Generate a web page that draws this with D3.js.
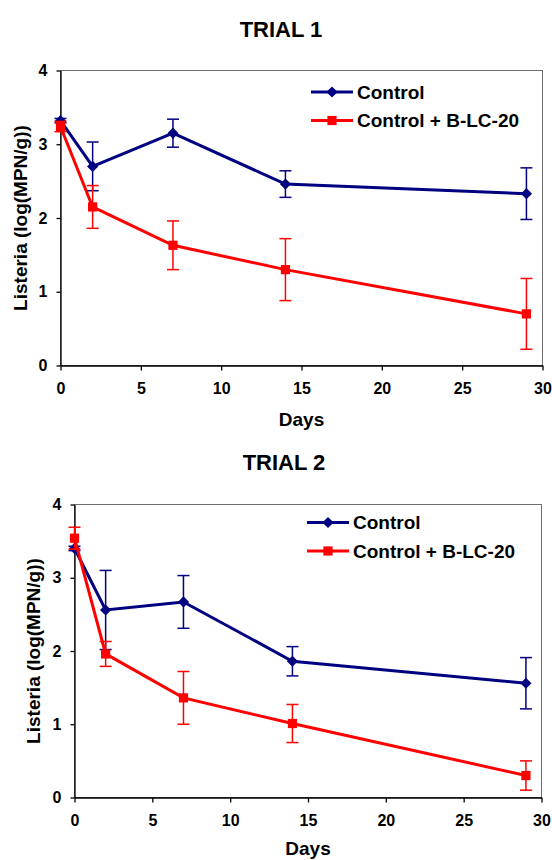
<!DOCTYPE html>
<html>
<head>
<meta charset="utf-8">
<script src="https://cdn.jsdelivr.net/npm/d3@7"></script>
<style>
  body { margin: 0; background: #fff; }
  svg text { font-family: Arial, "Liberation Sans", sans-serif; font-weight: bold; fill: #000; }
</style>
</head>
<body>
<div id="chart"></div>
<script>
// values (log MPN/g), symmetric error bars
var days = [0, 2, 7, 14, 29];
var seriesNames = ["Control", "Control + B-LC-20"];
var trialTitles = ["TRIAL 1", "TRIAL 2"];
var xTicks = [0, 5, 10, 15, 20, 25, 30];
var yTicks = [0, 1, 2, 3, 4];

var trial1Control = [3.32, 2.70, 3.15, 2.46, 2.33];
var trial1ControlErr = [0.03, 0.33, 0.19, 0.18, 0.35];
var trial1Blc = [3.24, 2.15, 1.63, 1.30, 0.70];
var trial1BlcErr = [0.07, 0.29, 0.33, 0.42, 0.48];

var trial2Control = [3.40, 2.56, 2.67, 1.86, 1.56];
var trial2ControlErr = [0.03, 0.54, 0.36, 0.20, 0.35];
var trial2Blc = [3.54, 1.96, 1.36, 1.01, 0.30];
var trial2BlcErr = [0.15, 0.17, 0.36, 0.26, 0.20];

var colors = ["#000080", "#ff0000"];
var symbols = [d3.symbolDiamond2, d3.symbolSquare];
var symbolSizes = [80, 85];

var svg = d3.select("#chart").append("svg")
            .attr("width", 552)
            .attr("height", 860);

function drawTrial(cfg) {

  var x = d3.scaleLinear().domain([0, 30]).range([cfg.left, cfg.right]);
  var y = d3.scaleLinear().domain([0, 4]).range([cfg.bottom, cfg.top]);

  var g = svg.append("g");

  g.append("text")
    .attr("x", cfg.titleX)
    .attr("y", cfg.titleY)
    .attr("text-anchor", "middle")
    .attr("font-size", "22px")
    .text(cfg.title);

  // plot frame
  g.append("rect")
    .attr("x", cfg.left)
    .attr("y", cfg.top)
    .attr("width", cfg.right - cfg.left)
    .attr("height", cfg.bottom - cfg.top)
    .attr("fill", "none")
    .attr("stroke", "#6e6e6e")
    .attr("stroke-width", 1);

  var yAxis = g.append("g")
    .attr("transform", "translate(" + cfg.left + ",0)")
    .call(d3.axisLeft(y).tickValues(yTicks).tickSize(4).tickSizeOuter(0).tickPadding(9).tickFormat(d3.format("d")));

  var xAxis = g.append("g")
    .attr("transform", "translate(0," + cfg.bottom + ")")
    .call(d3.axisBottom(x).tickValues(xTicks).tickSize(5).tickSizeOuter(0).tickPadding(12).tickFormat(d3.format("d")));

  [yAxis, xAxis].forEach(function (a) {
    a.selectAll("text").attr("font-size", "16px").attr("font-family", null);
    a.selectAll("line, path").attr("stroke", "#000").attr("stroke-width", 1.3);
  });

  g.append("text")
    .attr("x", (cfg.left + cfg.right) / 2)
    .attr("y", cfg.bottom + cfg.daysGap)
    .attr("text-anchor", "middle")
    .attr("font-size", "19px")
    .text("Days");

  g.append("text")
    .attr("transform", "translate(" + cfg.yTitleX + "," + ((cfg.top + cfg.bottom) / 2) + ") rotate(-90)")
    .attr("text-anchor", "middle")
    .attr("dominant-baseline", "central")
    .attr("font-size", "19px")
    .text("Listeria (log(MPN/g))");

  var line = d3.line()
    .x(function (d) { return x(d.day); })
    .y(function (d) { return y(d.value); });

  cfg.series.forEach(function (s, i) {
    var pts = days.map(function (d, k) {
      return { day: d, value: s.values[k], err: s.errs[k] };
    });

    var sg = g.append("g");

    sg.append("path")
      .datum(pts)
      .attr("d", line)
      .attr("fill", "none")
      .attr("stroke", colors[i])
      .attr("stroke-width", 3);

    var bars = sg.selectAll(".err")
      .data(pts)
      .enter().append("g");

    bars.append("line")
      .attr("x1", function (d) { return x(d.day); })
      .attr("x2", function (d) { return x(d.day); })
      .attr("y1", function (d) { return y(d.value + d.err); })
      .attr("y2", function (d) { return y(d.value - d.err); });

    bars.append("line")
      .attr("x1", function (d) { return x(d.day) - 6; })
      .attr("x2", function (d) { return x(d.day) + 6; })
      .attr("y1", function (d) { return y(d.value + d.err); })
      .attr("y2", function (d) { return y(d.value + d.err); });

    bars.append("line")
      .attr("x1", function (d) { return x(d.day) - 6; })
      .attr("x2", function (d) { return x(d.day) + 6; })
      .attr("y1", function (d) { return y(d.value - d.err); })
      .attr("y2", function (d) { return y(d.value - d.err); });

    bars.selectAll("line")
      .attr("stroke", colors[i])
      .attr("stroke-width", 1.5);

    sg.selectAll(".mark")
      .data(pts)
      .enter().append("path")
      .attr("transform", function (d) { return "translate(" + x(d.day) + "," + y(d.value) + ")"; })
      .attr("d", d3.symbol().type(symbols[i]).size(symbolSizes[i]))
      .attr("fill", colors[i]);
  });

  // legend
  seriesNames.forEach(function (name, i) {
    var ly = cfg.legendY + i * 28.5;
    var lg = g.append("g");
    lg.append("line")
      .attr("x1", cfg.legendX)
      .attr("x2", cfg.legendX + 42)
      .attr("y1", ly)
      .attr("y2", ly)
      .attr("stroke", colors[i])
      .attr("stroke-width", 3);
    lg.append("path")
      .attr("transform", "translate(" + (cfg.legendX + 21) + "," + ly + ")")
      .attr("d", d3.symbol().type(symbols[i]).size(symbolSizes[i]))
      .attr("fill", colors[i]);
    lg.append("text")
      .attr("x", cfg.legendX + 46)
      .attr("y", ly)
      .attr("dominant-baseline", "central")
      .attr("font-size", "19px")
      .text(name);
  });
}

drawTrial({
  title: trialTitles[0], titleX: 281, titleY: 37,
  left: 60.5, right: 542.5, top: 70.5, bottom: 365.5,
  yTitleX: 20, legendX: 311, legendY: 92, daysGap: 60,
  series: [
    { values: trial1Control, errs: trial1ControlErr },
    { values: trial1Blc, errs: trial1BlcErr }
  ]
});

drawTrial({
  title: trialTitles[1], titleX: 284, titleY: 470,
  left: 74.5, right: 541.5, top: 504.5, bottom: 797.5,
  yTitleX: 33, legendX: 307, legendY: 522.5, daysGap: 57,
  series: [
    { values: trial2Control, errs: trial2ControlErr },
    { values: trial2Blc, errs: trial2BlcErr }
  ]
});
</script>
</body>
</html>
